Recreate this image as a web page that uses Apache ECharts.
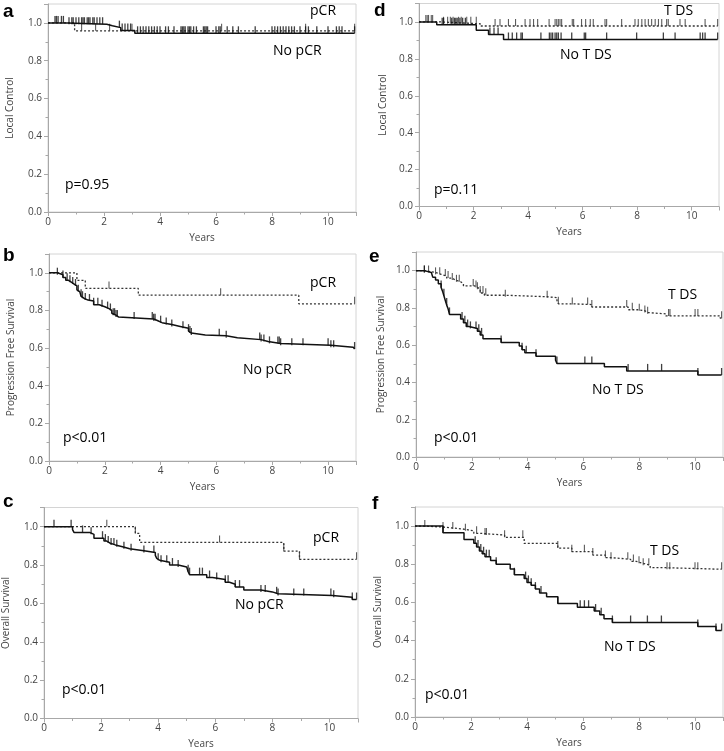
<!DOCTYPE html>
<html>
<head>
<meta charset="utf-8">
<script src="https://cdn.jsdelivr.net/npm/echarts@6/dist/echarts.min.js"></script>
<style>
html,body{margin:0;padding:0;background:#fff;}
#chart{width:724px;height:751px;}
</style>
</head>
<body>
<div id="chart"></div>
<script>
// ---------- DATA ----------
const xTicks = [0, 2, 4, 6, 8, 10];
const yTicks = [0.0, 0.2, 0.4, 0.6, 0.8, 1.0];

// Panel a: Local Control by pCR
const aNoT = [0, 0.7, 2.1, 2.3, 2.6, 3.1];
const aNoS = [1, 0.993, 0.985, 0.975, 0.96, 0.945];
const aNoC = [0.25,0.3,0.36,0.48,0.55,0.75,0.85,0.9,1.0,1.1,1.2,1.25,1.3,1.4,1.45,1.5,1.6,1.65,1.75,1.85,1.95,2.55,2.65,2.75,2.85,2.95,3.2,3.3,3.4,3.5,3.6,3.7,3.8,3.9,4.0,4.2,4.3,4.5,4.75,4.8,4.85,4.9,5.0,5.05,5.1,5.2,5.3,5.55,5.6,5.65,5.7,6.0,6.1,6.15,6.4,6.6,6.8,7.4,8.0,8.1,8.2,8.3,8.4,8.5,8.6,8.7,8.8,9.0,9.2,9.3,9.6,10.0,10.3,10.4,10.5,10.95];
const aPcrT = [0, 0.95];
const aPcrS = [1, 0.958];
const aPcrC = [1.2, 1.7, 2.2, 3.0, 6.2, 9.2, 10.95];

// Panel d: Local Control by T DS
const dNoT = [0, 0.65, 2.1, 2.55, 3.1];
const dNoS = [1, 0.985, 0.955, 0.932, 0.905];
const dNoC = [0.85,0.9,1.2,1.3,1.35,1.4,1.5,1.6,1.7,2.6,2.75,2.9,3.28,3.42,3.58,3.74,3.79,4.47,4.78,4.84,4.9,4.99,5.05,5.11,5.21,5.6,6.06,6.11,6.88,7.98,8.96,9.39,10.31,10.4,10.49,10.95];
const dTdsT = [0, 0.8, 2.25];
const dTdsS = [1, 0.99, 0.978];
const dTdsC = [0.25,0.3,0.35,0.45,0.5,0.9,1.05,1.15,1.25,1.45,1.55,1.75,1.9,2.1,2.79,2.97,3.28,3.54,3.89,4.07,4.2,4.35,4.77,4.99,5.05,5.11,5.17,5.23,5.62,5.67,5.96,6.11,6.28,6.39,6.82,6.88,7.43,7.92,8.04,8.17,8.29,8.41,8.53,8.66,8.78,8.9,9.08,9.14,9.57,9.76,10.49,10.95];

// Panel b: Progression Free Survival by pCR
const bNoT = [0,0.3,0.5,0.6,0.7,0.8,0.9,1.0,1.05,1.1,1.15,1.2,1.25,1.4,1.6,1.8,2.0,2.15,2.25,2.3,2.4,2.5,3.75,3.9,4.05,4.4,4.7,5.0,5.05,5.1,5.6,6.35,6.75,7.6,7.85,8.3,10.1,10.9];
const bNoS = [1,0.99,0.975,0.96,0.95,0.94,0.93,0.91,0.9,0.89,0.875,0.865,0.855,0.85,0.83,0.82,0.81,0.8,0.785,0.775,0.765,0.755,0.745,0.735,0.725,0.715,0.705,0.69,0.68,0.67,0.665,0.655,0.645,0.635,0.625,0.615,0.605,0.595];
const bNoC = [0.3,0.5,0.65,0.75,0.85,0.95,1.05,1.15,1.2,1.3,1.45,1.6,1.75,1.9,2.1,2.2,2.3,2.35,2.4,2.45,3.05,3.7,3.75,3.8,4.0,4.2,4.4,4.8,5.0,5.05,5.1,6.1,6.35,7.55,7.6,7.7,7.9,8.2,8.25,8.3,8.7,9.1,10.0,10.1,10.2,10.95];
const bPcrT = [0, 1.0, 1.3, 3.2, 8.95];
const bPcrS = [1, 0.96, 0.917, 0.881, 0.835];
const bPcrC = [2.15, 6.15, 10.95];

// Panel e: Progression Free Survival by T DS
const eNoT = [0,0.3,0.55,0.6,0.7,0.8,0.9,0.95,1.0,1.05,1.1,1.15,1.2,1.6,1.7,1.8,1.9,2.2,2.3,2.4,3.05,3.7,3.8,3.9,4.3,5.0,5.05,6.75,7.55,10.1];
const eNoS = [1,0.99,0.98,0.965,0.95,0.93,0.91,0.89,0.865,0.84,0.815,0.795,0.765,0.74,0.72,0.7,0.69,0.675,0.655,0.635,0.615,0.595,0.575,0.56,0.54,0.52,0.502,0.484,0.462,0.44];
const eNoC = [0.3,0.9,1.0,1.1,1.2,1.65,1.75,1.85,1.95,2.15,2.25,2.35,3.05,3.8,3.95,4.3,5.05,6.05,6.3,7.6,8.3,8.8,10.1,10.95];
const eTdsT = [0,0.3,0.7,0.9,1.1,1.3,1.4,1.6,1.7,2.1,2.2,2.3,2.45,3.2,4.7,5.05,5.1,5.6,6.3,7.6,7.95,8.2,8.3,8.95,10.9];
const eTdsS = [1,0.99,0.98,0.971,0.96,0.95,0.94,0.93,0.918,0.91,0.9,0.88,0.868,0.86,0.855,0.84,0.822,0.818,0.805,0.79,0.785,0.775,0.768,0.757,0.745];
const eTdsC = [0.3,0.45,0.7,0.85,1.05,1.15,1.3,1.45,1.55,2.05,2.15,2.2,2.3,2.4,2.5,3.2,4.7,5.1,5.6,6.15,6.3,7.55,7.75,8.0,8.2,8.3,9.05,9.1,10.0,10.1,10.95];

// Panel c: Overall Survival by pCR
const cNoT = [0,1.0,1.05,1.6,1.75,2.1,2.2,2.3,2.5,2.75,3.0,3.5,3.9,3.95,4.0,4.05,4.4,4.7,5.0,5.05,5.1,5.7,5.9,6.35,6.5,6.7,7.0,7.6,8.0,8.2,10.1,10.8];
const cNoS = [1,0.985,0.97,0.96,0.94,0.925,0.915,0.905,0.895,0.885,0.875,0.865,0.85,0.835,0.825,0.815,0.8,0.79,0.78,0.765,0.75,0.735,0.725,0.71,0.7,0.685,0.67,0.66,0.65,0.641,0.632,0.62];
const cNoC = [0.35,0.95,1.35,1.65,2.05,2.15,2.25,2.35,2.45,2.55,2.8,3.05,3.5,3.85,4.0,4.1,4.3,4.5,4.7,5.05,5.1,5.45,5.55,5.8,6.05,6.35,6.45,6.7,6.85,7.6,7.75,8.15,8.2,8.75,9.1,10.05,10.15,10.8,10.95];
const cPcrT = [0, 3.2, 3.35, 8.4, 8.95];
const cPcrS = [1, 0.965, 0.918, 0.873, 0.83];
const cPcrC = [2.2, 3.2, 6.15, 8.4, 8.95, 10.95];

// Panel f: Overall Survival by T DS
const fNoT = [0,1.0,1.75,2.1,2.2,2.3,2.4,2.5,2.7,2.9,3.4,3.55,3.9,4.0,4.15,4.3,4.45,4.7,5.1,5.8,6.4,6.6,6.75,7.05,10.1,10.75];
const fNoS = [1,0.965,0.93,0.91,0.89,0.87,0.855,0.84,0.82,0.8,0.775,0.745,0.725,0.705,0.69,0.67,0.65,0.63,0.595,0.575,0.555,0.535,0.515,0.495,0.474,0.453];
const fNoC = [1.0,2.15,2.25,2.35,2.45,2.55,2.65,2.9,3.55,3.95,4.05,4.15,4.3,4.5,5.1,5.9,6.05,6.2,6.45,6.65,7.05,7.7,8.3,8.8,10.1,10.75,10.95];
const fTdsT = [0,0.35,1.0,1.7,2.1,2.35,3.2,3.9,5.1,5.6,6.35,6.8,7.0,7.7,7.9,8.15,8.4,8.95];
const fTdsS = [1,0.995,0.985,0.975,0.962,0.953,0.941,0.909,0.885,0.866,0.848,0.835,0.826,0.815,0.805,0.795,0.782,0.774];
const fTdsC = [0.35,1.0,1.35,1.8,2.2,2.5,2.55,3.2,3.85,5.1,5.6,6.05,6.35,6.8,7.0,7.6,7.8,8.0,8.15,8.35,9.0,9.1,10.0,10.1,10.95];

// Panel texts
const panelLetters = ['a','d','b','e','c','f'];
const yNames = ['Local Control','Local Control','Progression Free Survival','Progression Free Survival','Overall Survival','Overall Survival'];
const groupHi = ['pCR','T DS','pCR','T DS','pCR','T DS'];
const groupLo = ['No pCR','No T DS','No pCR','No T DS','No pCR','No T DS'];
const pValues = ['p=0.95','p=0.11','p<0.01','p<0.01','p<0.01','p<0.01'];

// ---------- LAYOUT ----------
const panels = [
  {grid:{left:48, top:4, width:308, height:208}, nameGap:33, letter:[3,12], hi:[310,11.5], lo:[273,51], p:[65,185],
   no:[aNoT,aNoS,aNoC], g:[aPcrT,aPcrS,aPcrC]},
  {grid:{left:419, top:3.5, width:300, height:203}, nameGap:31, letter:[374,10.5], hi:[664,11.5], lo:[560,55], p:[434,190],
   no:[dNoT,dNoS,dNoC], g:[dTdsT,dTdsS,dTdsC]},
  {grid:{left:49, top:254, width:307, height:207}, nameGap:33, letter:[3,255.5], hi:[310,283], lo:[243,370], p:[63,438],
   no:[bNoT,bNoS,bNoC], g:[bPcrT,bPcrS,bPcrC]},
  {grid:{left:416, top:252, width:307, height:205}, nameGap:30, letter:[369,257], hi:[668,295.5], lo:[592,390], p:[434,438],
   no:[eNoT,eNoS,eNoC], g:[eTdsT,eTdsS,eTdsC]},
  {grid:{left:44, top:507.5, width:314, height:211}, nameGap:33, letter:[3,502], hi:[313,538], lo:[235,605], p:[62,690],
   no:[cNoT,cNoS,cNoC], g:[cPcrT,cPcrS,cPcrC]},
  {grid:{left:415, top:507, width:308, height:210}, nameGap:32, letter:[372,503.5], hi:[650,551], lo:[604,647], p:[425,695],
   no:[fNoT,fNoS,fNoC], g:[fTdsT,fTdsS,fTdsC]}
];

function stepData(T, S, C) {
  const pts = T.map((t, i) => [t, S[i]]);
  const end = Math.max(T[T.length - 1], C[C.length - 1]);
  pts.push([end, S[S.length - 1]]);
  return pts;
}
function censorData(T, S, C) {
  return C.map(c => {
    let v = S[0];
    for (let i = 0; i < T.length; i++) if (T[i] <= c) v = S[i];
    return [c, v];
  });
}

const FONT = '"Open Sans", "Noto Sans", sans-serif';
const AXC = '#a8a8a8';
const grids = [], xAxes = [], yAxes = [], series = [], graphics = [];

panels.forEach((p, k) => {
  grids.push(Object.assign({show:true, borderColor:'#d4d4d4', borderWidth:1, backgroundColor:'#fff'}, p.grid));
  xAxes.push({
    type:'value', gridIndex:k, min:0, max:11, interval:2,
    name:'Years', nameLocation:'middle', nameGap:21,
    nameTextStyle:{fontSize:10, color:'#444', fontFamily:FONT},
    axisLine:{show:true, onZero:false, lineStyle:{color:AXC, width:1}},
    axisTick:{show:true, length:4, lineStyle:{color:AXC}},
    minorTick:{show:true, splitNumber:2, length:2.5, lineStyle:{color:AXC}},
    splitLine:{show:false},
    axisLabel:{fontSize:10, color:'#444', margin:5, fontFamily:FONT, showMaxLabel:false,
      formatter: v => xTicks.includes(v) ? String(v) : ''}
  });
  yAxes.push({
    type:'value', gridIndex:k, min:0, max:1.1, interval:0.2,
    name:yNames[k], nameLocation:'middle', nameGap:p.nameGap, nameRotate:90,
    nameTextStyle:{fontSize:10, color:'#444', fontFamily:FONT},
    axisLine:{show:true, onZero:false, lineStyle:{color:AXC, width:1}},
    axisTick:{show:true, length:4, lineStyle:{color:AXC}},
    minorTick:{show:true, splitNumber:2, length:2.5, lineStyle:{color:AXC}},
    splitLine:{show:false},
    axisLabel:{fontSize:10, color:'#444', margin:6, fontFamily:FONT, showMaxLabel:false,
      formatter: v => yTicks.some(t => Math.abs(t - v) < 1e-6) ? v.toFixed(1) : ''}
  });
  // group (dotted)
  series.push({type:'line', xAxisIndex:k, yAxisIndex:k, step:'end', symbol:'none', silent:true,
    data: stepData(p.g[0], p.g[1], p.g[2]),
    lineStyle:{color:'#333', width:1.3, type:[2,2]}, z:2});
  series.push({type:'scatter', xAxisIndex:k, yAxisIndex:k, silent:true,
    data: censorData(p.g[0], p.g[1], p.g[2]),
    symbol:'rect', symbolSize:[1.1, 7], symbolOffset:[0, '-50%'],
    itemStyle:{color:'#333'}, z:3});
  // no group (solid)
  series.push({type:'line', xAxisIndex:k, yAxisIndex:k, step:'end', symbol:'none', silent:true,
    data: stepData(p.no[0], p.no[1], p.no[2]),
    lineStyle:{color:'#111', width:1.5}, z:4});
  series.push({type:'scatter', xAxisIndex:k, yAxisIndex:k, silent:true,
    data: censorData(p.no[0], p.no[1], p.no[2]),
    symbol:'rect', symbolSize:[1.3, 7], symbolOffset:[0, '-50%'],
    itemStyle:{color:'#111'}, z:5});

  graphics.push({type:'text', x:p.letter[0], y:p.letter[1], z:10,
    style:{text:panelLetters[k], font:'bold 19px "Liberation Sans", Arial, sans-serif', fill:'#000', verticalAlign:'middle'}});
  graphics.push({type:'text', x:p.hi[0], y:p.hi[1], z:10,
    style:{text:groupHi[k], font:'14px ' + FONT, fill:'#000', verticalAlign:'middle'}});
  graphics.push({type:'text', x:p.lo[0], y:p.lo[1], z:10,
    style:{text:groupLo[k], font:'14px ' + FONT, fill:'#000', verticalAlign:'middle'}});
  graphics.push({type:'text', x:p.p[0], y:p.p[1], z:10,
    style:{text:pValues[k], font:'14px ' + FONT, fill:'#000', verticalAlign:'middle'}});
});

const chart = echarts.init(document.getElementById('chart'), null, {renderer:'canvas'});
chart.setOption({
  animation:false,
  backgroundColor:'#fff',
  grid:grids, xAxis:xAxes, yAxis:yAxes, series:series, graphic:graphics
});
</script>
</body>
</html>
